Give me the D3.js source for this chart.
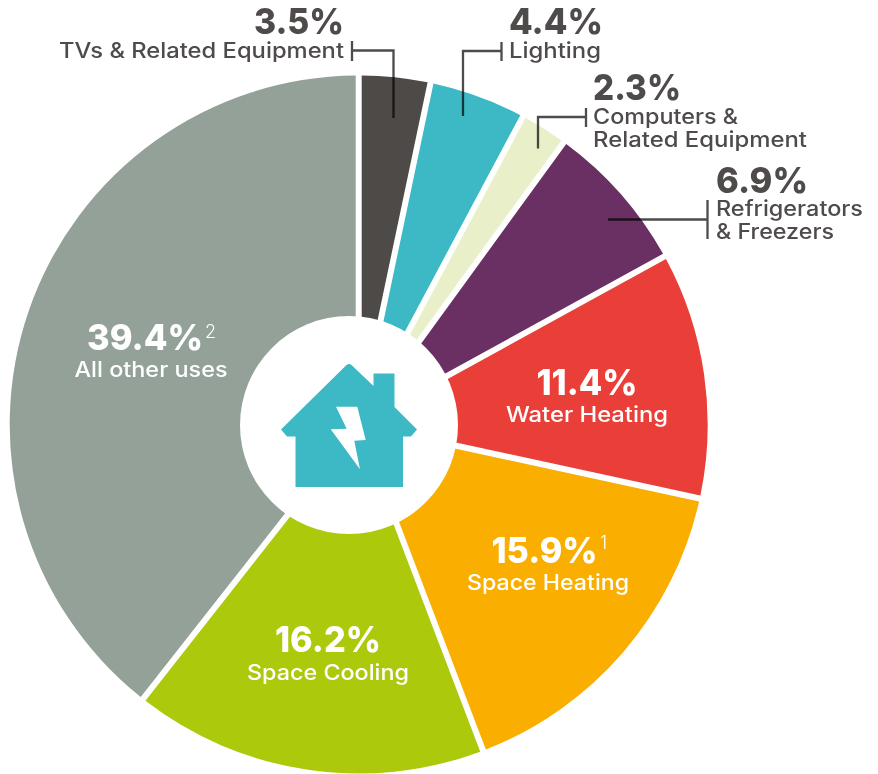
<!DOCTYPE html>
<html>
<head>
<meta charset="utf-8">
<script src="https://cdn.jsdelivr.net/npm/d3@7/dist/d3.min.js"></script>
<style>
  html, body { margin: 0; padding: 0; background: #fff; }
  svg { display: block; }
  text { font-family: Inter, "Open Sans", sans-serif; }
</style>
</head>
<body>
<svg></svg>
<script>
// data, clockwise from 12 o'clock
let categories = ['TVs & Related Equipment', 'Lighting', 'Computers & Related Equipment', 'Refrigerators & Freezers',
    'Water Heating', 'Space Heating', 'Space Cooling', 'All other uses'];
let values = [3.5, 4.4, 2.3, 6.9, 11.4, 15.9, 16.2, 39.4]; // printed on the chart
let shares = [3.3, 4.5, 2.2, 7.0, 11.4, 15.8, 16.4, 39.4]; // slice sizes as measured, the artwork is a bit off its own labels
let notes = ['', '', '', '', '', '1', '', '2'];
let colors = ['#4e4a48', '#3cb9c4', '#e8efc9', '#6a2f63', '#ea3f38', '#f9ae00', '#adc90c', '#93a198'];

let width = 878, height = 774;
let cx = 358.7, cy = 424.5, outerR = 349, gap = 6;
let holeX = 349, holeY = 425, holeR = 109; // the white circle sits left of the pie centre
let dark = '#4e4b4a';

// where each label sits
let labels = [
    { lines: ['TVs & Related Equipment'], x: 344, y: 34, subY: 58, anchor: 'end', fill: dark, w: 90, lw: [285] },
    { lines: ['Lighting'], x: 509, y: 34, subY: 58, anchor: 'start', fill: dark, w: 94, lw: [92] },
    { lines: ['Computers &', 'Related Equipment'], x: 593, y: 100, subY: 124, anchor: 'start', fill: dark, w: 88, lw: [145, 214] },
    { lines: ['Refrigerators', '& Freezers'], x: 716, y: 193, subY: 216, anchor: 'start', fill: dark, w: 92, lw: [147, 118] },
    { lines: ['Water Heating'], x: 587, y: 395, subY: 422, anchor: 'middle', fill: '#fff', w: 101, lw: [162] },
    { lines: ['Space Heating'], x: 548, y: 563, subY: 589.5, anchor: 'middle', fill: '#fff', w: 106, lw: [162], bigX: 491.5, noteX: 600, noteY: 549 },
    { lines: ['Space Cooling'], x: 328, y: 652, subY: 680, anchor: 'middle', fill: '#fff', w: 106, lw: [162] },
    { lines: ['All other uses'], x: 151, y: 350, subY: 376.5, anchor: 'middle', fill: '#fff', w: 116, lw: [153], bigX: 87, noteX: 205, noteY: 338 }
];

// leader lines: tick bar at the label, elbow, end inside the slice
let leaders = [
    { bar: [352, 41, 61], path: [[352, 50.5], [393.5, 50.5], [393.5, 118]] },
    { bar: [501.5, 42, 61], path: [[501.5, 51], [463, 51], [463, 116]] },
    { bar: [586, 108, 127], path: [[586, 117], [538, 117], [538, 148.5]] },
    { bar: [707.5, 200, 239], path: [[707.5, 219.5], [608, 219.5]] }
];

let svg = d3.select('svg').attr('width', width).attr('height', height);

let pie = d3.pie().value((d) => d).sort(null);
let arc = d3.arc()
    .innerRadius(60) // hidden under the white circle, keeps the gaps parallel
    .outerRadius(outerR)
    .padAngle(gap / outerR)
    .padRadius(outerR);

svg.append('g')
    .attr('transform', `translate(${cx}, ${cy})`)
    .selectAll('path')
    .data(pie(shares))
    .enter()
    .append('path')
    .attr('d', arc)
    .attr('fill', (d, i) => colors[i]);

svg.append('circle')
    .attr('cx', holeX).attr('cy', holeY)
    .attr('r', holeR)
    .attr('fill', '#fff');

// house icon
svg.append('path')
    .attr('fill', '#3cb9c4')
    .attr('fill-rule', 'evenodd')
    .attr('d', 'M346.5 365 Q349 363 351.5 365 L373.5 386 L373.5 373.5 L394.5 373.5 L394.5 407 L417 429.5 L411 436.5 L403 436.5 L403 487 L295.5 487 L295.5 436.5 L287 436.5 L281 429.5 Z'
        + 'M336 406.7 L357.3 406.7 L365.7 440 L354.3 440.7 L360 469.3 L330.7 429.3 L346.7 428.7 Z');

// leaders, multiplied so they go darker over the slices
let line = d3.line();
leaders.forEach((l) => {
    svg.append('path')
        .attr('d', line(l.path))
        .attr('fill', 'none')
        .attr('stroke', dark)
        .attr('stroke-width', 2.3)
        .style('mix-blend-mode', 'multiply');
    svg.append('line')
        .attr('x1', l.bar[0]).attr('x2', l.bar[0])
        .attr('y1', l.bar[1]).attr('y2', l.bar[2])
        .attr('stroke', dark)
        .attr('stroke-width', 2.3);
});

// labels
labels.forEach((l, i) => {
    let bigX = l.bigX !== undefined ? l.bigX : l.x;
    let bigAnchor = l.bigX !== undefined ? 'start' : l.anchor;
    svg.append('text')
        .attr('x', bigX).attr('y', l.y)
        .attr('text-anchor', bigAnchor)
        .attr('fill', l.fill)
        .attr('font-size', 36)
        .attr('font-weight', 800)
        .attr('textLength', l.w)
        .attr('lengthAdjust', 'spacingAndGlyphs')
        .text(values[i].toFixed(1) + '%');
    if (notes[i]) {
        svg.append('text')
            .attr('x', l.noteX).attr('y', l.noteY)
            .attr('fill', l.fill)
            .attr('font-size', 18)
            .attr('font-weight', 300)
            .text(notes[i]);
    }
    l.lines.forEach((t, j) => {
        svg.append('text')
            .attr('x', l.x).attr('y', l.subY + j * 23)
            .attr('text-anchor', l.anchor)
            .attr('fill', l.fill)
            .attr('font-size', 21)
            .attr('font-weight', 500)
            .attr('textLength', l.lw[j])
            .attr('lengthAdjust', 'spacingAndGlyphs')
            .text(t);
    });
});
</script>
</body>
</html>
